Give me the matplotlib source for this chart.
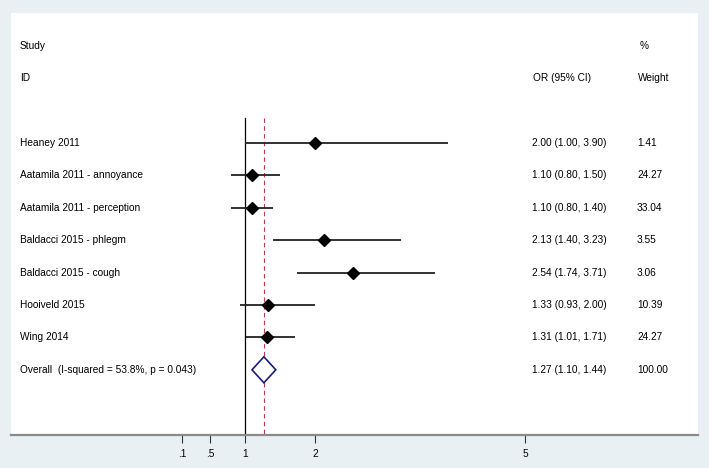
import matplotlib.pyplot as plt
from matplotlib.patches import Polygon

studies = ["Heaney 2011", "Aatamila 2011 - annoyance", "Aatamila 2011 - perception",
           "Baldacci 2015 - phlegm", "Baldacci 2015 - cough", "Hooiveld 2015", "Wing 2014"]
or_est = [2.00, 1.10, 1.10, 2.13, 2.54, 1.33, 1.31]
ci_low = [1.00, 0.80, 0.80, 1.40, 1.74, 0.93, 1.01]
ci_high = [3.90, 1.50, 1.40, 3.23, 3.71, 2.00, 1.71]
weights = ["1.41", "24.27", "33.04", "3.55", "3.06", "10.39", "24.27"]

overall_label = "Overall  (I-squared = 53.8%, p = 0.043)"
overall_or, overall_low, overall_high = 1.27, 1.10, 1.44
overall_weight = "100.00"

xticks = [0.1, 0.5, 1, 2, 5]
xtick_labels = [".1", ".5", "1", "2", "5"]

W, H = 709, 468
bg = "#e8f0f3"
plt.rcParams['font.family'] = ['Liberation Sans', 'DejaVu Sans']

fig = plt.figure(figsize=(W / 100, H / 100), dpi=100, facecolor=bg)
# white plot region in pixels
left, right, top, bottom = 11, 698, 13, 435
ax = fig.add_axes([left / W, 1 - bottom / H, (right - left) / W, (bottom - top) / H])
ax.set_facecolor("white")

# linear x: 1 at px 245, 70 px per unit
px_per = 70.0
x0 = 1 + (left - 245) / px_per
x1 = 1 + (right - 245) / px_per
ax.set_xlim(x0, x1)
# rows: row 0 at px 143, spacing 32.4
row_px = 32.4
ax.set_ylim((bottom - 143) / row_px, (top - 143) / row_px)

def fx(px):
    return (px - left) / (right - left)

tr = ax.get_yaxis_transform()
fs = 7.3
n = len(studies)

# headers
ax.text(fx(20), -3.0, "Study", transform=tr, fontsize=fs, va="center")
ax.text(fx(20), -2.0, "ID", transform=tr, fontsize=fs, va="center")
ax.text(fx(640), -3.0, "%", transform=tr, fontsize=fs, va="center")
ax.text(fx(533), -2.0, "OR (95% CI)", transform=tr, fontsize=fs, va="center")
ax.text(fx(638), -2.0, "Weight", transform=tr, fontsize=fs, va="center")

line_top = (118 - 143) / row_px
ax.plot([1, 1], [line_top, ax.get_ylim()[0]], color="black", lw=0.9)
ax.plot([overall_or, overall_or], [line_top, ax.get_ylim()[0]], color="#c0394b",
        lw=0.8, ls=(0, (4, 3)))

for i in range(n):
    ax.plot([ci_low[i], ci_high[i]], [i, i], color="#222222", lw=1.3, solid_capstyle="butt")
    ax.plot(or_est[i], i, marker="D", ms=6, color="black")
    ax.text(fx(20), i, studies[i], transform=tr, fontsize=fs, va="center")
    ax.text(fx(532), i, f"{or_est[i]:.2f} ({ci_low[i]:.2f}, {ci_high[i]:.2f})",
            transform=tr, fontsize=fs, va="center")
    ax.text(fx(637), i, weights[i], transform=tr, fontsize=fs, va="center")

yo = n
dh = 13 / row_px
diamond = Polygon([[overall_low, yo], [overall_or, yo - dh], [overall_high, yo],
                   [overall_or, yo + dh]], closed=True, facecolor="white",
                  edgecolor="#1c1c7a", lw=1.2, zorder=3)
ax.add_patch(diamond)
ax.text(fx(20), yo, overall_label, transform=tr, fontsize=fs, va="center")
ax.text(fx(532), yo, f"{overall_or:.2f} ({overall_low:.2f}, {overall_high:.2f})",
        transform=tr, fontsize=fs, va="center")
ax.text(fx(637), yo, overall_weight, transform=tr, fontsize=fs, va="center")

for s in ["top", "left", "right"]:
    ax.spines[s].set_visible(False)
ax.spines["bottom"].set_color("#8a8a8a")
ax.spines["bottom"].set_linewidth(1.6)
ax.set_yticks([])
ax.set_xticks(xticks)
ax.set_xticklabels(xtick_labels, fontsize=fs)
ax.tick_params(axis="x", length=6, width=0.8, color="#333333", pad=4)

fig.savefig("out.png", dpi=100, facecolor=bg)
